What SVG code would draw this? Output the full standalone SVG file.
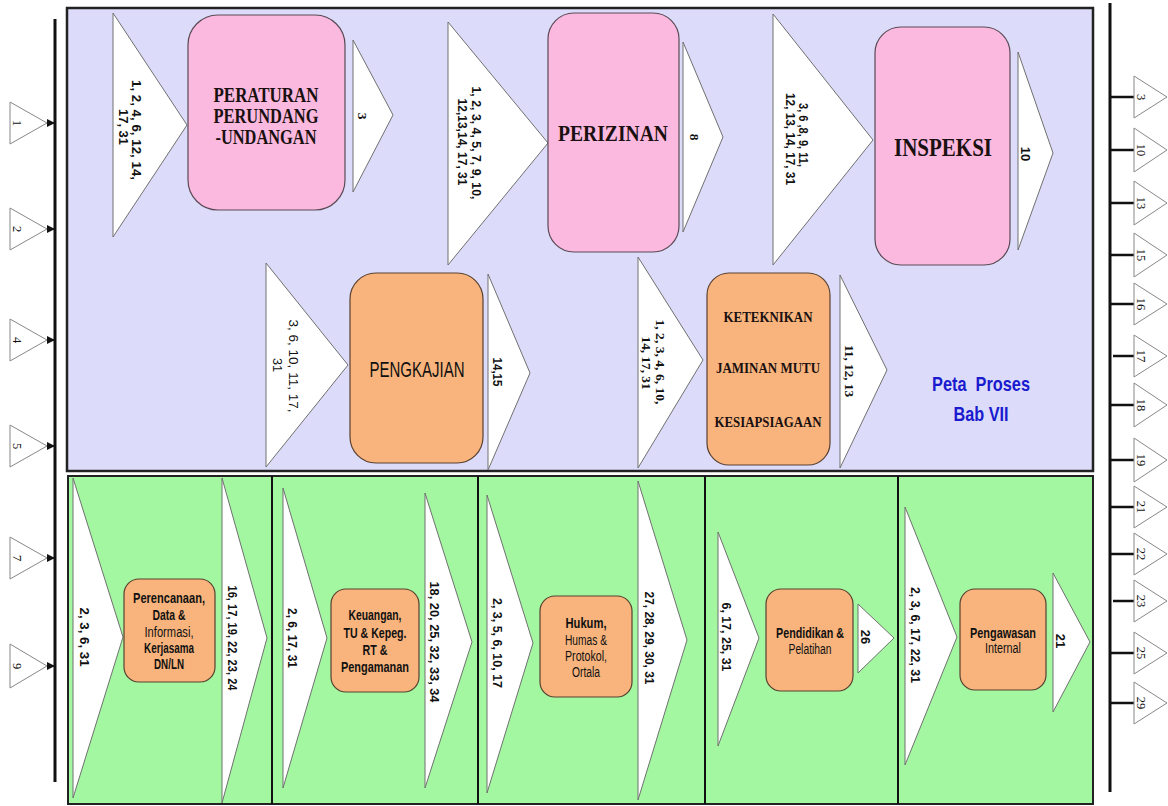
<svg xmlns="http://www.w3.org/2000/svg" width="1168" height="806" viewBox="0 0 1168 806">
<defs>
<style>
.tri{fill:#fff;stroke:#707070;stroke-width:1}
.pink{fill:#fbb9df;stroke:#5a4a55;stroke-width:1.2}
.orange{fill:#f8b47c;stroke:#5a4030;stroke-width:1.2}
.lbl{font-family:"Liberation Sans",Arial,sans-serif;font-weight:bold;font-size:13px;fill:#111}
.lbln{font-family:"Liberation Sans",Arial,sans-serif;font-size:13.5px;fill:#111}
.lbls{font-family:"Liberation Serif","Times New Roman",serif;font-weight:bold;font-size:13.5px;fill:#111}
.ser{font-family:"Liberation Serif","Times New Roman",serif;font-weight:bold;fill:#1a1010}
.sans{font-family:"Liberation Sans",Arial,sans-serif;fill:#111}
.bt{font-family:"Liberation Sans",Arial,sans-serif;font-size:14px;font-weight:bold;fill:#111}
.btn{font-family:"Liberation Sans",Arial,sans-serif;font-size:14px;fill:#111}
.ax{font-family:"Liberation Serif","Times New Roman",serif;font-size:12.5px;fill:#111}
.axtri{fill:#fff;stroke:#888;stroke-width:1}
.axl{stroke:#111;stroke-width:3;fill:none}
.tick{stroke:#111;stroke-width:2.5}
.arr{stroke:#111;stroke-width:1.5}
.div{stroke:#111;stroke-width:2}
.ttl{font-family:"Liberation Sans",Arial,sans-serif;font-size:21px;font-weight:bold;fill:#1a1acf}
</style>
<marker id="ah" viewBox="0 0 10 10" refX="10" refY="5" markerWidth="8" markerHeight="8" markerUnits="userSpaceOnUse" orient="auto">
<path d="M0,0 L10,5 L0,10 z" fill="#111"/>
</marker>
</defs>

<rect width="1168" height="806" fill="#fff"/>

<g id="panel-top">
<rect x="67" y="8" width="1026" height="463" fill="#dcdcfa" stroke="#222" stroke-width="2.5"/>
</g>
<g id="panel-bottom">
<rect x="68" y="476" width="1025" height="328" fill="#a2f7a0" stroke="#222" stroke-width="2"/>
<line class="div" x1="272" y1="476" x2="272" y2="804"/>
<line class="div" x1="478" y1="476" x2="478" y2="804"/>
<line class="div" x1="705" y1="476" x2="705" y2="804"/>
<line class="div" x1="898" y1="476" x2="898" y2="804"/>
</g>

<g id="connectors">
<line class="axl" x1="55" y1="19" x2="55" y2="782"/>
<line class="axl" x1="1110" y1="3" x2="1110" y2="792"/>
<line class="arr" x1="47" y1="123" x2="55" y2="123" marker-end="url(#ah)"/>
<line class="arr" x1="47" y1="229" x2="55" y2="229" marker-end="url(#ah)"/>
<line class="arr" x1="47" y1="340" x2="55" y2="340" marker-end="url(#ah)"/>
<line class="arr" x1="47" y1="446" x2="55" y2="446" marker-end="url(#ah)"/>
<line class="arr" x1="47" y1="558" x2="55" y2="558" marker-end="url(#ah)"/>
<line class="arr" x1="47" y1="666" x2="55" y2="666" marker-end="url(#ah)"/>
<line class="tick" x1="1110" y1="97" x2="1134" y2="97"/>
<line class="tick" x1="1110" y1="150" x2="1134" y2="150"/>
<line class="tick" x1="1110" y1="203" x2="1134" y2="203"/>
<line class="tick" x1="1110" y1="255" x2="1134" y2="255"/>
<line class="tick" x1="1110" y1="304" x2="1134" y2="304"/>
<line class="tick" x1="1113" y1="356" x2="1134" y2="356"/>
<line class="tick" x1="1110" y1="405" x2="1134" y2="405"/>
<line class="tick" x1="1110" y1="460" x2="1134" y2="460"/>
<line class="tick" x1="1110" y1="507" x2="1134" y2="507"/>
<line class="tick" x1="1110" y1="554" x2="1134" y2="554"/>
<line class="tick" x1="1113" y1="601" x2="1134" y2="601"/>
<line class="tick" x1="1110" y1="653" x2="1134" y2="653"/>
<line class="tick" x1="1110" y1="703" x2="1134" y2="703"/>
</g>

<g id="in-1"><polygon class="axtri" points="10,102 47,123 10,144"/><text class="ax" transform="translate(17,123) rotate(90)" y="4" text-anchor="middle">1</text></g>
<g id="in-2"><polygon class="axtri" points="10,208 47,229 10,250"/><text class="ax" transform="translate(17,229) rotate(90)" y="4" text-anchor="middle">2</text></g>
<g id="in-4"><polygon class="axtri" points="10,319 47,340 10,361"/><text class="ax" transform="translate(17,340) rotate(90)" y="4" text-anchor="middle">4</text></g>
<g id="in-5"><polygon class="axtri" points="10,425 47,446 10,467"/><text class="ax" transform="translate(17,446) rotate(90)" y="4" text-anchor="middle">5</text></g>
<g id="in-7"><polygon class="axtri" points="10,537 47,558 10,579"/><text class="ax" transform="translate(17,558) rotate(90)" y="4" text-anchor="middle">7</text></g>
<g id="in-9"><polygon class="axtri" points="10,644 47,666 10,688"/><text class="ax" transform="translate(17,666) rotate(90)" y="4" text-anchor="middle">9</text></g>

<g id="out-3"><polygon class="axtri" points="1134,76 1167,97 1134,118"/><text class="ax" transform="translate(1141,97) rotate(90)" y="4" text-anchor="middle">3</text></g>
<g id="out-10"><polygon class="axtri" points="1134,128 1167,150 1134,172"/><text class="ax" transform="translate(1141,150) rotate(90)" y="4" text-anchor="middle">10</text></g>
<g id="out-13"><polygon class="axtri" points="1134,181 1167,203 1134,225"/><text class="ax" transform="translate(1141,203) rotate(90)" y="4" text-anchor="middle">13</text></g>
<g id="out-15"><polygon class="axtri" points="1134,233 1167,255 1134,277"/><text class="ax" transform="translate(1141,255) rotate(90)" y="4" text-anchor="middle">15</text></g>
<g id="out-16"><polygon class="axtri" points="1134,283 1167,304 1134,325"/><text class="ax" transform="translate(1141,304) rotate(90)" y="4" text-anchor="middle">16</text></g>
<g id="out-17"><polygon class="axtri" points="1134,335 1167,356 1134,377"/><text class="ax" transform="translate(1141,356) rotate(90)" y="4" text-anchor="middle">17</text></g>
<g id="out-18"><polygon class="axtri" points="1134,383 1167,405 1134,427"/><text class="ax" transform="translate(1141,405) rotate(90)" y="4" text-anchor="middle">18</text></g>
<g id="out-19"><polygon class="axtri" points="1134,438 1167,460 1134,482"/><text class="ax" transform="translate(1141,460) rotate(90)" y="4" text-anchor="middle">19</text></g>
<g id="out-21"><polygon class="axtri" points="1134,486 1167,507 1134,528"/><text class="ax" transform="translate(1141,507) rotate(90)" y="4" text-anchor="middle">21</text></g>
<g id="out-22"><polygon class="axtri" points="1134,533 1167,554 1134,575"/><text class="ax" transform="translate(1141,554) rotate(90)" y="4" text-anchor="middle">22</text></g>
<g id="out-23"><polygon class="axtri" points="1134,580 1167,601 1134,622"/><text class="ax" transform="translate(1141,601) rotate(90)" y="4" text-anchor="middle">23</text></g>
<g id="out-25"><polygon class="axtri" points="1134,632 1167,653 1134,674"/><text class="ax" transform="translate(1141,653) rotate(90)" y="4" text-anchor="middle">25</text></g>
<g id="out-29"><polygon class="axtri" points="1134,682 1167,703 1134,724"/><text class="ax" transform="translate(1141,703) rotate(90)" y="4" text-anchor="middle">29</text></g>

<g id="peraturan">
<polygon class="tri" points="113,13 187,125 113,237"/>
<text class="lbl" transform="translate(137,130) rotate(90)" y="4.7" text-anchor="middle" textLength="100" lengthAdjust="spacingAndGlyphs">1, 2, 4, 6, 12, 14,</text>
<text class="lbl" transform="translate(124,127) rotate(90)" y="4.7" text-anchor="middle" textLength="36" lengthAdjust="spacingAndGlyphs">17, 31</text>
<rect class="pink" x="188" y="15" width="157" height="195" rx="30"/>
<text class="ser" font-size="20.5" x="266" y="102" text-anchor="middle" textLength="105" lengthAdjust="spacingAndGlyphs">PERATURAN</text>
<text class="ser" font-size="20.5" x="266" y="123" text-anchor="middle" textLength="105" lengthAdjust="spacingAndGlyphs">PERUNDANG</text>
<text class="ser" font-size="20.5" x="266" y="144" text-anchor="middle" textLength="101" lengthAdjust="spacingAndGlyphs">-UNDANGAN</text>
<polygon class="tri" points="353,40 393,115 353,192"/>
<text class="lbls" transform="translate(362,116) rotate(90)" y="4.5" text-anchor="middle">3</text>
</g>

<g id="perizinan">
<polygon class="tri" points="448,22 548,143 448,265"/>
<text class="lbl" transform="translate(477,143) rotate(90)" y="4.7" text-anchor="middle" textLength="113" lengthAdjust="spacingAndGlyphs">1, 2, 3, 4, 5, 7, 9, 10,</text>
<text class="lbl" transform="translate(463,142) rotate(90)" y="4.7" text-anchor="middle" textLength="87" lengthAdjust="spacingAndGlyphs">12,13,14, 17, 31</text>
<rect class="pink" x="548" y="13" width="131" height="239" rx="26"/>
<text class="ser" font-size="23.5" x="613" y="141" text-anchor="middle" textLength="110" lengthAdjust="spacingAndGlyphs">PERIZINAN</text>
<polygon class="tri" points="683,42 723,137 683,232"/>
<text class="lbls" font-size="12" transform="translate(694,137) rotate(90)" y="4.3" text-anchor="middle">8</text>
</g>

<g id="inspeksi">
<polygon class="tri" points="773,14 873,140 773,265"/>
<text class="lbl" transform="translate(804,135) rotate(90)" y="4.7" text-anchor="middle" textLength="64" lengthAdjust="spacingAndGlyphs">3, 6 ,8, 9, 11,</text>
<text class="lbl" transform="translate(791,139) rotate(90)" y="4.7" text-anchor="middle" textLength="92" lengthAdjust="spacingAndGlyphs">12, 13, 14, 17, 31</text>
<rect class="pink" x="875" y="27" width="135" height="238" rx="26"/>
<text class="ser" font-size="25" x="943" y="156" text-anchor="middle" textLength="98" lengthAdjust="spacingAndGlyphs">INSPEKSI</text>
<polygon class="tri" points="1018,52 1053,153 1018,250"/>
<text class="lbl" transform="translate(1026,154) rotate(90)" y="4.7" text-anchor="middle">10</text>
</g>

<g id="pengkajian">
<polygon class="tri" points="266,263 348,365 266,467"/>
<text class="lbln" transform="translate(294,366) rotate(90)" y="4.8" text-anchor="middle" textLength="93" lengthAdjust="spacingAndGlyphs">3, 6, 10, 11, 17,</text>
<text class="lbln" transform="translate(278,365) rotate(90)" y="4.8" text-anchor="middle" textLength="14" lengthAdjust="spacingAndGlyphs">31</text>
<rect class="orange" x="350" y="273" width="133" height="190" rx="26"/>
<text class="sans" font-size="21.5" x="417" y="377" text-anchor="middle" textLength="95" lengthAdjust="spacingAndGlyphs">PENGKAJIAN</text>
<polygon class="tri" points="488,274 530,373 488,470"/>
<text class="lbl" transform="translate(498,372) rotate(90)" y="4.7" text-anchor="middle" textLength="29" lengthAdjust="spacingAndGlyphs">14,15</text>
</g>

<g id="keteknikan">
<polygon class="tri" points="638,257 703,360 638,468"/>
<text class="lbls" transform="translate(661,362) rotate(90)" y="4.6" text-anchor="middle" textLength="85" lengthAdjust="spacingAndGlyphs">1, 2, 3, 4, 6, 10,</text>
<text class="lbls" transform="translate(647,363) rotate(90)" y="4.6" text-anchor="middle" textLength="53" lengthAdjust="spacingAndGlyphs">14, 17, 31</text>
<rect class="orange" x="707" y="273" width="123" height="192" rx="22"/>
<text class="ser" font-size="15" x="768" y="322" text-anchor="middle" textLength="89" lengthAdjust="spacingAndGlyphs">KETEKNIKAN</text>
<text class="ser" font-size="15" x="768" y="373" text-anchor="middle" textLength="104" lengthAdjust="spacingAndGlyphs">JAMINAN MUTU</text>
<text class="ser" font-size="15" x="768" y="427" text-anchor="middle" textLength="107" lengthAdjust="spacingAndGlyphs">KESIAPSIAGAAN</text>
<polygon class="tri" points="840,275 887,370 840,468"/>
<text class="lbls" transform="translate(850,371) rotate(90)" y="4.6" text-anchor="middle" textLength="52" lengthAdjust="spacingAndGlyphs">11, 12, 13</text>
</g>

<g id="title">
<text class="ttl" x="981" y="391" text-anchor="middle" textLength="98" lengthAdjust="spacingAndGlyphs">Peta&#160; Proses</text>
<text class="ttl" x="981" y="421" text-anchor="middle" textLength="55" lengthAdjust="spacingAndGlyphs">Bab VII</text>
</g>

<g id="perencanaan">
<polygon class="tri" points="73,478 123,637 73,798"/>
<text class="lbl" transform="translate(85,637) rotate(90)" y="4.7" text-anchor="middle" textLength="59" lengthAdjust="spacingAndGlyphs">2, 3, 6, 31</text>
<rect class="orange" x="124" y="579" width="91" height="103" rx="15"/>
<text class="bt" x="169" y="603" text-anchor="middle" textLength="72" lengthAdjust="spacingAndGlyphs">Perencanaan,</text>
<text class="bt" x="169" y="620" text-anchor="middle" textLength="33" lengthAdjust="spacingAndGlyphs">Data &amp;</text>
<text class="btn" x="169" y="637" text-anchor="middle" textLength="49" lengthAdjust="spacingAndGlyphs">Informasi,</text>
<text class="bt" x="169" y="653" text-anchor="middle" textLength="50" lengthAdjust="spacingAndGlyphs">Kerjasama</text>
<text class="bt" x="169" y="669" text-anchor="middle" textLength="30" lengthAdjust="spacingAndGlyphs">DN/LN</text>
<polygon class="tri" points="222,478 267,638 222,803"/>
<text class="lbl" transform="translate(233,638) rotate(90)" y="4.7" text-anchor="middle" textLength="105" lengthAdjust="spacingAndGlyphs">16, 17, 19, 22, 23, 24</text>
</g>

<g id="keuangan">
<polygon class="tri" points="283,488 327,638 283,788"/>
<text class="lbl" transform="translate(293,638) rotate(90)" y="4.7" text-anchor="middle" textLength="60" lengthAdjust="spacingAndGlyphs">2, 6, 17, 31</text>
<rect class="orange" x="331" y="589" width="88" height="103" rx="15"/>
<text class="bt" x="375" y="620" text-anchor="middle" textLength="53" lengthAdjust="spacingAndGlyphs">Keuangan,</text>
<text class="bt" x="375" y="638" text-anchor="middle" textLength="63" lengthAdjust="spacingAndGlyphs">TU &amp; Kepeg.</text>
<text class="bt" x="375" y="655" text-anchor="middle" textLength="25" lengthAdjust="spacingAndGlyphs">RT &amp;</text>
<text class="bt" x="375" y="672" text-anchor="middle" textLength="68" lengthAdjust="spacingAndGlyphs">Pengamanan</text>
<polygon class="tri" points="425,493 472,642 425,788"/>
<text class="lbl" transform="translate(435,642) rotate(90)" y="4.7" text-anchor="middle" textLength="121" lengthAdjust="spacingAndGlyphs">18, 20, 25, 32, 33, 34</text>
</g>

<g id="hukum">
<polygon class="tri" points="487,495 533,643 487,793"/>
<text class="lbl" transform="translate(498,643) rotate(90)" y="4.7" text-anchor="middle" textLength="90" lengthAdjust="spacingAndGlyphs">2, 3, 5, 6, 10, 17</text>
<rect class="orange" x="540" y="596" width="92" height="101" rx="15"/>
<text class="bt" x="586" y="628" text-anchor="middle" textLength="41" lengthAdjust="spacingAndGlyphs">Hukum,</text>
<text class="btn" x="586" y="645" text-anchor="middle" textLength="42" lengthAdjust="spacingAndGlyphs">Humas &amp;</text>
<text class="btn" x="586" y="661" text-anchor="middle" textLength="42" lengthAdjust="spacingAndGlyphs">Protokol,</text>
<text class="btn" x="586" y="677" text-anchor="middle" textLength="28" lengthAdjust="spacingAndGlyphs">Ortala</text>
<polygon class="tri" points="638,481 687,640 638,800"/>
<text class="lbl" transform="translate(650,638) rotate(90)" y="4.7" text-anchor="middle" textLength="93" lengthAdjust="spacingAndGlyphs">27, 28, 29, 30, 31</text>
</g>

<g id="pendidikan">
<polygon class="tri" points="718,532 759,638 718,746"/>
<text class="lbl" transform="translate(727,637) rotate(90)" y="4.7" text-anchor="middle" textLength="69" lengthAdjust="spacingAndGlyphs">6, 17, 25, 31</text>
<rect class="orange" x="766" y="589" width="87" height="102" rx="15"/>
<text class="bt" x="810" y="638" text-anchor="middle" textLength="68" lengthAdjust="spacingAndGlyphs">Pendidikan &amp;</text>
<text class="btn" x="810" y="654" text-anchor="middle" textLength="43" lengthAdjust="spacingAndGlyphs">Pelatihan</text>
<polygon class="tri" points="858,604 894,638 858,673"/>
<text class="lbl" transform="translate(866,637) rotate(90)" y="4.7" text-anchor="middle">26</text>
</g>

<g id="pengawasan">
<polygon class="tri" points="905,507 957,637 905,765"/>
<text class="lbl" transform="translate(916,635) rotate(90)" y="4.7" text-anchor="middle" textLength="96" lengthAdjust="spacingAndGlyphs">2, 3, 6, 17, 22, 31</text>
<rect class="orange" x="960" y="589" width="86" height="101" rx="15"/>
<text class="bt" x="1003" y="638" text-anchor="middle" textLength="66" lengthAdjust="spacingAndGlyphs">Pengawasan</text>
<text class="btn" x="1003" y="653" text-anchor="middle" textLength="36" lengthAdjust="spacingAndGlyphs">Internal</text>
<polygon class="tri" points="1053,573 1090,642 1053,712"/>
<text class="lbl" transform="translate(1061,641) rotate(90)" y="4.7" text-anchor="middle">21</text>
</g>
</svg>
